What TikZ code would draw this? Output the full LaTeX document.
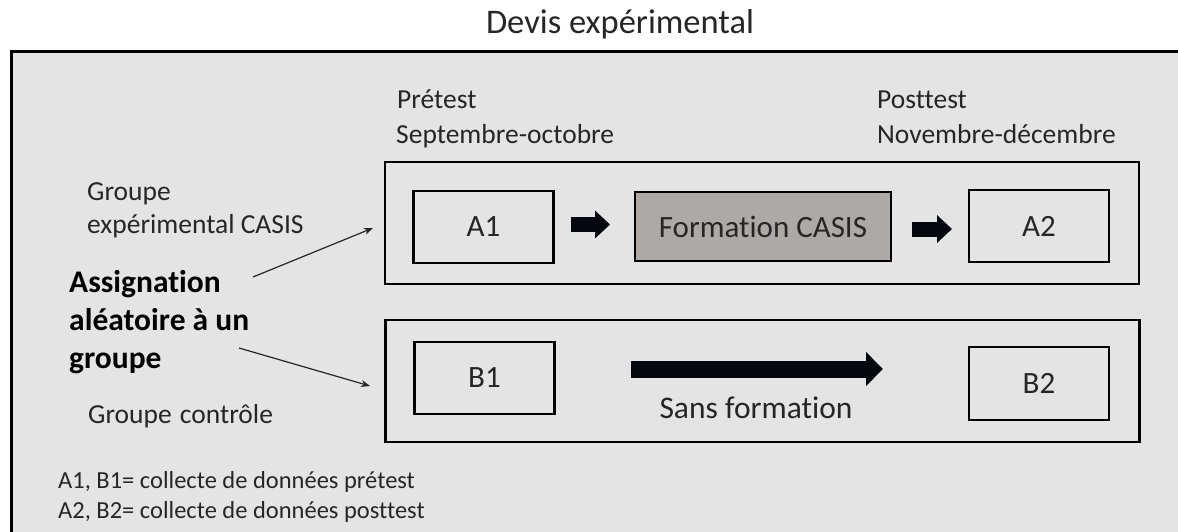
\documentclass[tikz,border=0pt]{standalone}
\usepackage{fontspec}
\setmainfont[Ligatures={NoCommon}]{Carlito}
\usetikzlibrary{arrows.meta}
\definecolor{bgfill}{HTML}{E4E4E4}
\definecolor{formfill}{HTML}{ADA9A7}
\definecolor{txt}{HTML}{262626}
\definecolor{arrowcol}{HTML}{05070F}
\tikzset{
  lbl/.style={anchor=base west, inner sep=0pt, text=txt, font=\fontsize{27.5}{33}\selectfont},
  boldlbl/.style={anchor=base west, inner sep=0pt, text=black, font=\fontsize{31.5}{38}\selectfont\bfseries},
  notelbl/.style={anchor=base west, inner sep=0pt, text=txt, font=\fontsize{24.5}{30}\selectfont},
  groupbox/.style={draw=black, line width=2.6pt, minimum width=754pt, minimum height=122pt, inner sep=0pt},
  databox/.style={draw=black, line width=2.6pt, minimum width=140pt, minimum height=72pt, inner sep=0pt, text=txt, font=\fontsize{31}{36}\selectfont},
  blockarrow/.style={draw=arrowcol, line width=15pt, -{Triangle[length=15pt, width=27pt]}},
  bigarrow/.style={draw=arrowcol, line width=17pt, -{Triangle[length=17pt, width=33pt]}},
  thinarrow/.style={draw=txt, line width=1.2pt, -{Stealth[length=9pt, width=7pt]}}
}
\begin{document}
\begin{tikzpicture}[x=1pt, y=-1pt]
\useasboundingbox (0,0) rectangle (1178,532);
\fill[white] (0,0) rectangle (1178,532);
\begin{scope}
\clip (0,0) rectangle (1178,532);
\draw[fill=bgfill, line width=3pt] (11,52) rectangle (1200,560);
\end{scope}
% title
\node[anchor=base, inner sep=0pt, text=txt, font=\fontsize{34.5}{40}\selectfont] (title) at (620,34) {Devis expérimental};
% time labels
\node[lbl] (pre1) at (397,109) {Prétest};
\node[lbl] (pre2) at (396,144) {Septembre-octobre};
\node[lbl] (post1) at (877,109) {Posttest};
\node[lbl] (post2) at (877,144) {Novembre-décembre};
% group boxes
\node[groupbox] (gA) at (762,223) {};
\node[groupbox] (gB) at (762.5,381) {};
% data boxes
\node[databox] (A1) at (483.5,227) {A1};
\node[databox, fill=formfill, minimum width=256pt, minimum height=69pt] (F) at (763,226.5) {Formation CASIS};
\node[databox] (A2) at (1039,226) {A2};
\node[databox] (B1) at (484.5,378) {B1};
\node[databox, minimum height=73pt] (B2) at (1039,383.5) {B2};
% block arrows
\coordinate (a1s) at (571,224.5);
\coordinate (a1e) at (610,224.5);
\coordinate (a2s) at (912,229);
\coordinate (a2e) at (952,229);
\coordinate (bs) at (631,369);
\coordinate (be) at (883,369);
\draw[blockarrow] (a1s) -- (a1e);
\draw[blockarrow] (a2s) -- (a2e);
\draw[bigarrow] (bs) -- (be);
\node[anchor=base, inner sep=0pt, text=txt, font=\fontsize{31.5}{38}\selectfont] (sans) at (756,418) {Sans formation};
% left labels
\node[lbl] (gexp1) at (87,200) {Groupe};
\node[lbl] (gexp2) at (87,233) {expérimental CASIS};
\node[boldlbl] (as1) at (69,292) {Assignation};
\node[boldlbl] (as2) at (69,330) {aléatoire à un};
\node[boldlbl] (as3) at (69,368) {groupe};
\node[lbl] (gctl) at (88,423) {Groupe\hspace{0.3em}contrôle};
% thin arrows
\coordinate (t1s) at (253,277);
\coordinate (t1e) at (373,228);
\coordinate (t2s) at (239,348);
\coordinate (t2e) at (370,386);
\draw[thinarrow] (t1s) -- (t1e);
\draw[thinarrow] (t2s) -- (t2e);
% notes
\node[notelbl] (n1) at (58,488) {A1, B1= collecte de données prétest};
\node[notelbl] (n2) at (58,518) {A2, B2= collecte de données posttest};
\end{tikzpicture}
\end{document}
